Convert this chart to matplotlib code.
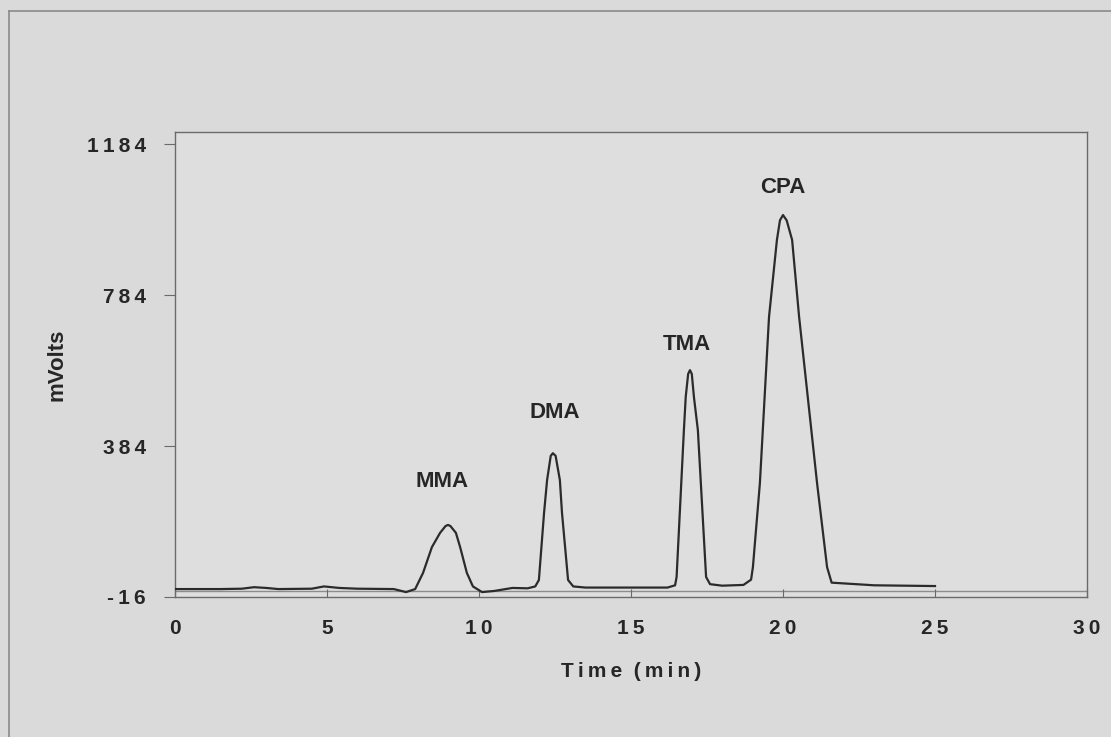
import matplotlib
matplotlib.use('Agg')
import matplotlib.pyplot as plt
from matplotlib.lines import Line2D

# chromatogram trace (time in min, signal in mV)
time_min = [0.0, 1.5, 2.2, 2.6, 3.0, 3.4, 4.5, 4.9, 5.4, 6.0, 7.2, 7.6, 7.9,
            8.16, 8.45, 8.72, 8.9, 8.98, 9.06, 9.24, 9.38, 9.6, 9.8, 10.1,
            10.5, 11.1, 11.6, 11.85, 11.97, 12.14, 12.24, 12.36, 12.43, 12.52,
            12.66, 12.73, 12.93, 13.1, 13.5, 16.2, 16.45, 16.5, 16.74, 16.8,
            16.88, 16.94, 17.0, 17.07, 17.2, 17.47, 17.6, 18.0, 18.7, 18.95,
            19.01, 19.24, 19.54, 19.8, 19.9, 20.0, 20.12, 20.3, 20.53, 21.12,
            21.45, 21.6, 22.0, 23.0, 25.0]
signal_mv = [5, 5, 6, 10, 8, 5, 6, 12, 8, 6, 5, -3, 5,
             48, 116, 154, 172, 175, 172, 154, 116, 48, 12, -3,
             0, 8, 7, 12, 29, 207, 294, 358, 365, 358,
             294, 207, 29, 12, 9, 9, 15, 37, 426, 514,
             575, 585, 575, 514, 426, 37, 18, 14, 16, 30,
             63, 286, 726, 930, 982, 996, 982, 930, 726, 286,
             63, 22, 20, 15, 13]

peak_names = ['MMA', 'DMA', 'TMA', 'CPA']
label_x = [8.8, 12.5, 16.85, 20.0]
label_y = [289, 474, 654, 1070]

x_ticks = [0, 5, 10, 15, 20, 25, 30]
y_ticks = [-16, 384, 784, 1184]

bg = '#dadada'
ink = '#262626'
THIN = '\u2009'


def spaced(s):
    # the scanned labels have loose letter spacing
    return THIN.join(s)


fig = plt.figure(figsize=(11.11, 7.37), dpi=100, facecolor=bg)
ax = fig.add_axes([175 / 1111, 1 - 597 / 737, 912 / 1111, 465 / 737])
ax.set_facecolor('#dedede')

# outer frame of the scanned page (left and top only visible)
fig.add_artist(Line2D([9 / 1111, 9 / 1111], [0, 1 - 11 / 737],
                      transform=fig.transFigure, color='#8a8a8a', lw=1.2))
fig.add_artist(Line2D([9 / 1111, 1], [1 - 11 / 737, 1 - 11 / 737],
                      transform=fig.transFigure, color='#8a8a8a', lw=1.2))

ax.axhline(0, color='#8c8c8c', lw=1.0, zorder=1)
ax.plot(time_min, signal_mv, color='#2b2b2b', lw=1.6, zorder=3,
        solid_joinstyle='round')

for name, lx, ly in zip(peak_names, label_x, label_y):
    ax.text(lx, ly, name, ha='center', va='center', fontsize=16,
            fontweight='bold', family='Liberation Sans', color=ink)

ax.set_xlim(0, 30)
ax.set_ylim(-16, 1216)
ax.set_xticks(x_ticks)
ax.set_yticks(y_ticks)
ax.set_xticklabels([spaced(str(t)) for t in x_ticks])
ax.set_yticklabels([spaced(str(t)) for t in y_ticks])

for side in ['top', 'right', 'left', 'bottom']:
    ax.spines[side].set_color('#6a6a6a')
    ax.spines[side].set_linewidth(1.0)

ax.tick_params(axis='x', direction='in', length=6, width=0.8, colors='#6a6a6a',
               pad=16, labelsize=15, labelcolor=ink)
ax.tick_params(axis='y', direction='out', length=8, width=0.8, colors='#6a6a6a',
               pad=13, labelsize=15, labelcolor=ink)
for lab in ax.get_xticklabels() + ax.get_yticklabels():
    lab.set_fontweight('bold')
    lab.set_family('Liberation Sans')

ax.set_xlabel(spaced('Time') + '  ' + spaced('(min)'), fontsize=15,
              fontweight='bold', family='Liberation Sans', color=ink,
              labelpad=17)
ax.set_ylabel('mVolts', fontsize=16, fontweight='bold',
              family='Liberation Sans', color=ink, labelpad=14)

fig.savefig('out.png', dpi=100, facecolor=bg)
